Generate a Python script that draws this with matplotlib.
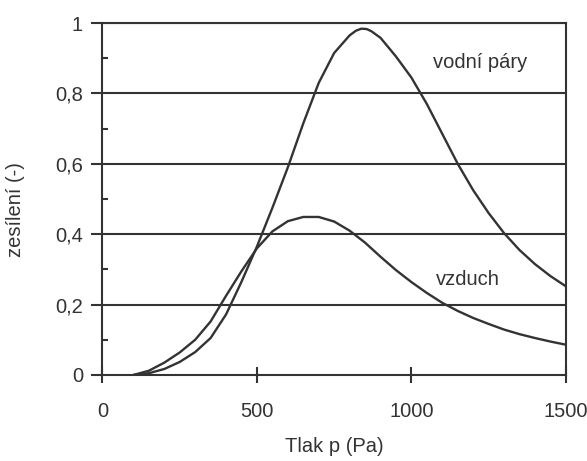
import matplotlib
matplotlib.use("Agg")
import matplotlib.pyplot as plt
from matplotlib.ticker import MultipleLocator, FuncFormatter

plt.rcParams['font.family'] = ['Liberation Sans', 'DejaVu Sans']

# Data
p_vodni = [100, 150, 200, 250, 300, 350, 400, 450, 500, 550, 600, 650, 700, 750, 800,
           820, 838, 855, 870, 900, 950, 1000, 1050, 1100, 1150, 1200, 1250, 1300, 1350,
           1400, 1450, 1500]
z_vodni = [0.0, 0.005, 0.017, 0.037, 0.065, 0.105, 0.172, 0.265, 0.365, 0.475, 0.590,
           0.715, 0.830, 0.915, 0.965, 0.978, 0.984, 0.983, 0.977, 0.958, 0.905, 0.845,
           0.770, 0.685, 0.600, 0.525, 0.460, 0.403, 0.355, 0.315, 0.281, 0.252]

p_vzduch = [100, 150, 200, 250, 300, 350, 400, 450, 500, 550, 600, 650, 700, 750, 800,
            850, 900, 950, 1000, 1050, 1100, 1150, 1200, 1250, 1300, 1350, 1400, 1450,
            1500]
z_vzduch = [0.0, 0.012, 0.035, 0.064, 0.100, 0.152, 0.225, 0.295, 0.360, 0.408, 0.437,
            0.449, 0.449, 0.436, 0.410, 0.376, 0.336, 0.298, 0.264, 0.233, 0.205, 0.182,
            0.162, 0.145, 0.129, 0.116, 0.105, 0.095, 0.086]

x_ticks = [0, 500, 1000, 1500]
y_ticks = [0, 0.2, 0.4, 0.6, 0.8, 1.0]

series_labels = ["vodní páry", "vzduch"]
label_pos = [(1222, 0.889), (1183, 0.27)]

C = "#333333"
FS = 14.5
fig = plt.figure(figsize=(5.87, 4.61), dpi=100)
ax = fig.add_axes([0.1746, 0.1866, 0.964 - 0.1746, 0.950 - 0.1866])

for y in y_ticks[1:]:
    ax.axhline(y, color=C, lw=1.5, zorder=1)

ax.plot(p_vodni, z_vodni, color=C, lw=1.7, zorder=3, solid_capstyle='round',
        solid_joinstyle='round')
ax.plot(p_vzduch, z_vzduch, color=C, lw=1.7, zorder=3, solid_capstyle='round',
        solid_joinstyle='round')

for lab, (x, y) in zip(series_labels, label_pos):
    ax.text(x, y, lab, fontsize=FS, color=C, ha='center', va='center')

ax.set_xlim(0, 1500)
ax.set_ylim(0, 1)
ax.set_xticks(x_ticks)
ax.set_yticks(y_ticks)
ax.yaxis.set_minor_locator(MultipleLocator(0.1))
fmt = lambda v, pos: ("%g" % v).replace('.', ',')
ax.yaxis.set_major_formatter(FuncFormatter(fmt))

for s in ax.spines.values():
    s.set_color(C)
    s.set_linewidth(1.5)

ax.tick_params(axis='x', direction='inout', length=11, width=1.5, color=C,
               labelsize=FS, labelcolor=C, pad=14)
ax.tick_params(axis='y', which='major', direction='out', length=8, width=1.5, color=C,
               labelsize=FS, labelcolor=C, pad=6)
ax.tick_params(axis='y', which='minor', direction='in', length=4, width=1.5, color=C)

ax.set_xlabel("Tlak p (Pa)", fontsize=FS, color=C)
ax.xaxis.set_label_coords(0.5, -0.175)
ax.set_ylabel("zesílení (-)", fontsize=FS, color=C)
ax.yaxis.set_label_coords(-0.168, 0.47)

fig.savefig("out.png", dpi=100)
